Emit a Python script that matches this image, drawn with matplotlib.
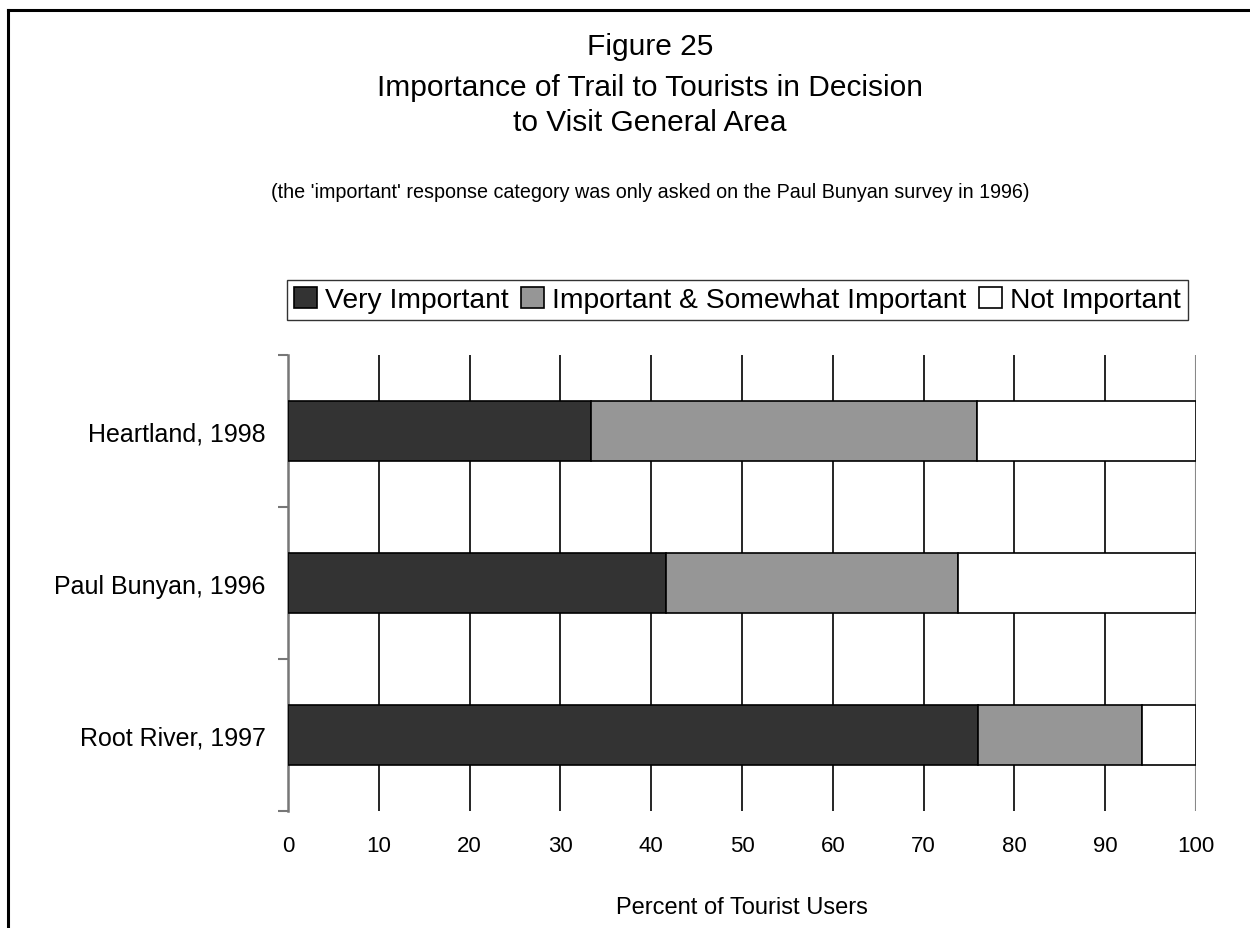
import matplotlib
matplotlib.use("Agg")
import matplotlib.pyplot as plt
from matplotlib.lines import Line2D
import numpy as np

plt.rcParams['font.family'] = ['Liberation Sans', 'DejaVu Sans']

categories = ["Heartland, 1998", "Paul Bunyan, 1996", "Root River, 1997"]
very_important = [33.4, 41.6, 76.0]
somewhat_important = [42.5, 32.2, 18.1]
not_important = [24.1, 26.2, 5.9]
series_names = ["Very Important", "Important & Somewhat Important", "Not Important"]
colors = ["#333333", "#969696", "#ffffff"]
x_ticks = list(range(0, 101, 10))

fig = plt.figure(figsize=(12.5, 9.29), dpi=100)
ax = fig.add_axes([0.2304, 0.1259, 0.7264, 0.4909])

y = np.arange(len(categories))
left = np.zeros(len(categories))
handles = []
for vals, name, col in zip([very_important, somewhat_important, not_important], series_names, colors):
    b = ax.barh(y, vals, left=left, height=0.4, color=col, edgecolor="black",
                linewidth=1.2, label=name, zorder=3)
    handles.append(b)
    left = left + np.array(vals)

ax.set_ylim(len(categories) - 0.5, -0.5)
ax.set_xlim(0, 100)
ax.set_yticks(y)
ax.set_yticklabels(categories, fontsize=18)
ax.set_yticks(np.arange(-0.5, len(categories)), minor=True)
ax.tick_params(axis="y", which="major", length=0, pad=16)
ax.tick_params(axis="y", which="minor", length=7, color="#777777", width=1.5)
ax.set_xticks(x_ticks)
ax.set_xticklabels([str(t) for t in x_ticks], fontsize=16)
ax.tick_params(axis="x", length=0, pad=17)

for t in x_ticks[1:-1]:
    ax.axvline(t, color="black", linewidth=1.2, zorder=1)
ax.axvline(100, color="#888888", linewidth=1.5, zorder=1)

for s in ["top", "right", "bottom"]:
    ax.spines[s].set_visible(False)
ax.spines["left"].set_color("#777777")
ax.spines["left"].set_linewidth(1.8)

ax.set_xlabel("Percent of Tourist Users", fontsize=17, labelpad=29)

fig.text(0.52, 0.949, "Figure 25", ha="center", va="center", fontsize=21.5)
fig.text(0.52, 0.905, "Importance of Trail to Tourists in Decision", ha="center", va="center", fontsize=21.5)
fig.text(0.52, 0.868, "to Visit General Area", ha="center", va="center", fontsize=21.5)
fig.text(0.52, 0.793, "(the 'important' response category was only asked on the Paul Bunyan survey in 1996)",
         ha="center", va="center", fontsize=14.2)

leg = fig.legend(handles=handles, labels=series_names, loc="center", bbox_to_anchor=(0.59, 0.676),
                 ncol=3, fontsize=20.3, frameon=True, fancybox=False, edgecolor="black",
                 handlelength=0.8, handleheight=0.8, handletextpad=0.3, columnspacing=0.45,
                 borderpad=0.25, borderaxespad=0)
leg.get_frame().set_linewidth(1.0)

fig.add_artist(Line2D([8 / 1250, 8 / 1250], [0, 1 - 11 / 929], transform=fig.transFigure,
                      color="black", linewidth=2.2))
fig.add_artist(Line2D([8 / 1250, 1], [1 - 11 / 929, 1 - 11 / 929], transform=fig.transFigure,
                      color="black", linewidth=2.2))

fig.savefig("out.png", dpi=100)
